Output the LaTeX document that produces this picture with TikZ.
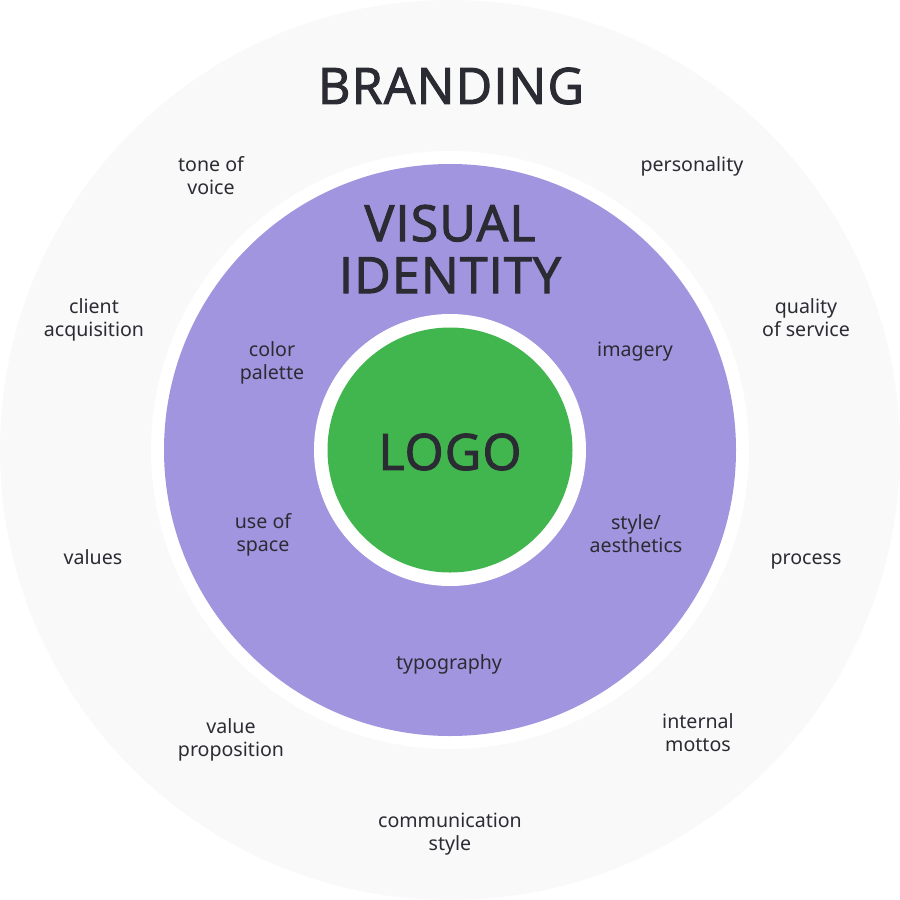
\documentclass[tikz,border=0pt]{standalone}
\usepackage{fontspec}
\setmainfont{Open Sans}
\newfontfamily\titlefont[LetterSpace=2.5]{Open Sans}
\newfontfamily\labelfont{Noto Sans}
\usetikzlibrary{positioning}
\definecolor{ringgrey}{HTML}{F9F9F9}
\definecolor{ringpurple}{HTML}{A295DF}
\definecolor{ringgreen}{HTML}{42B64E}
\definecolor{inkdark}{HTML}{2B2B33}
% stroked outline thickens the title letters
\newcommand{\heavy}[1]{\special{pdf:code 2 Tr 1.1 w}#1\special{pdf:code 0 Tr 1 w}}
\tikzset{
	ring/.style = {circle, inner sep=0pt},
	title/.style = {align=center, inner sep=0pt, text=inkdark, font=\titlefont\fontsize{50pt}{52pt}\selectfont},
	item/.style = {align=center, inner sep=0pt, text=inkdark, font=\labelfont\fontsize{19.6pt}{23pt}\selectfont}
}
\begin{document}
\begin{tikzpicture}[x=1pt,y=-1pt]
		\useasboundingbox (0,0) rectangle (900,900);
		\node [ring, fill=ringgrey, minimum size=900pt] (outer) at (450,450) {};
		\node [ring, fill=white, minimum size=598pt] (outergap) at (450,450) {};
		\node [ring, fill=ringpurple, minimum size=572pt] (middle) at (450,450) {};
		\node [ring, fill=white, minimum size=272pt] (middlegap) at (450,450) {};
		\node [ring, fill=ringgreen, minimum size=245pt] (inner) at (450,450) {};
		% titles
		\node [title] (branding) at (451,86) {\heavy{BRANDING}};
		\node [title] (visual) at (450,249) {\heavy{VISUAL}\\\heavy{IDENTITY}};
		\node [title] (logo) at (450,452) {\heavy{LOGO}};
		% outer ring
		\node [item] (tone) at (211,176) {tone of\\voice};
		\node [item] (personality) at (692,166) {personality};
		\node [item] (client) at (94,320) {client\\acquisition};
		\node [item] (quality) at (806,318) {quality\\of service};
		\node [item] (values) at (93,557) {values};
		\node [item] (process) at (806,561) {process};
		\node [item] (proposition) at (231,740) {value\\proposition};
		\node [item] (mottos) at (698,733) {internal\\mottos};
		\node [item] (communication) at (450,834) {communication\\style};
		% middle ring
		\node [item] (palette) at (272,363) {color\\palette};
		\node [item] (imagery) at (635,352) {imagery};
		\node [item] (space) at (263,535) {use of\\space};
		\node [item] (style) at (636,534) {style/\\aesthetics};
		\node [item] (typography) at (449,664) {typography};
\end{tikzpicture}
\end{document}
